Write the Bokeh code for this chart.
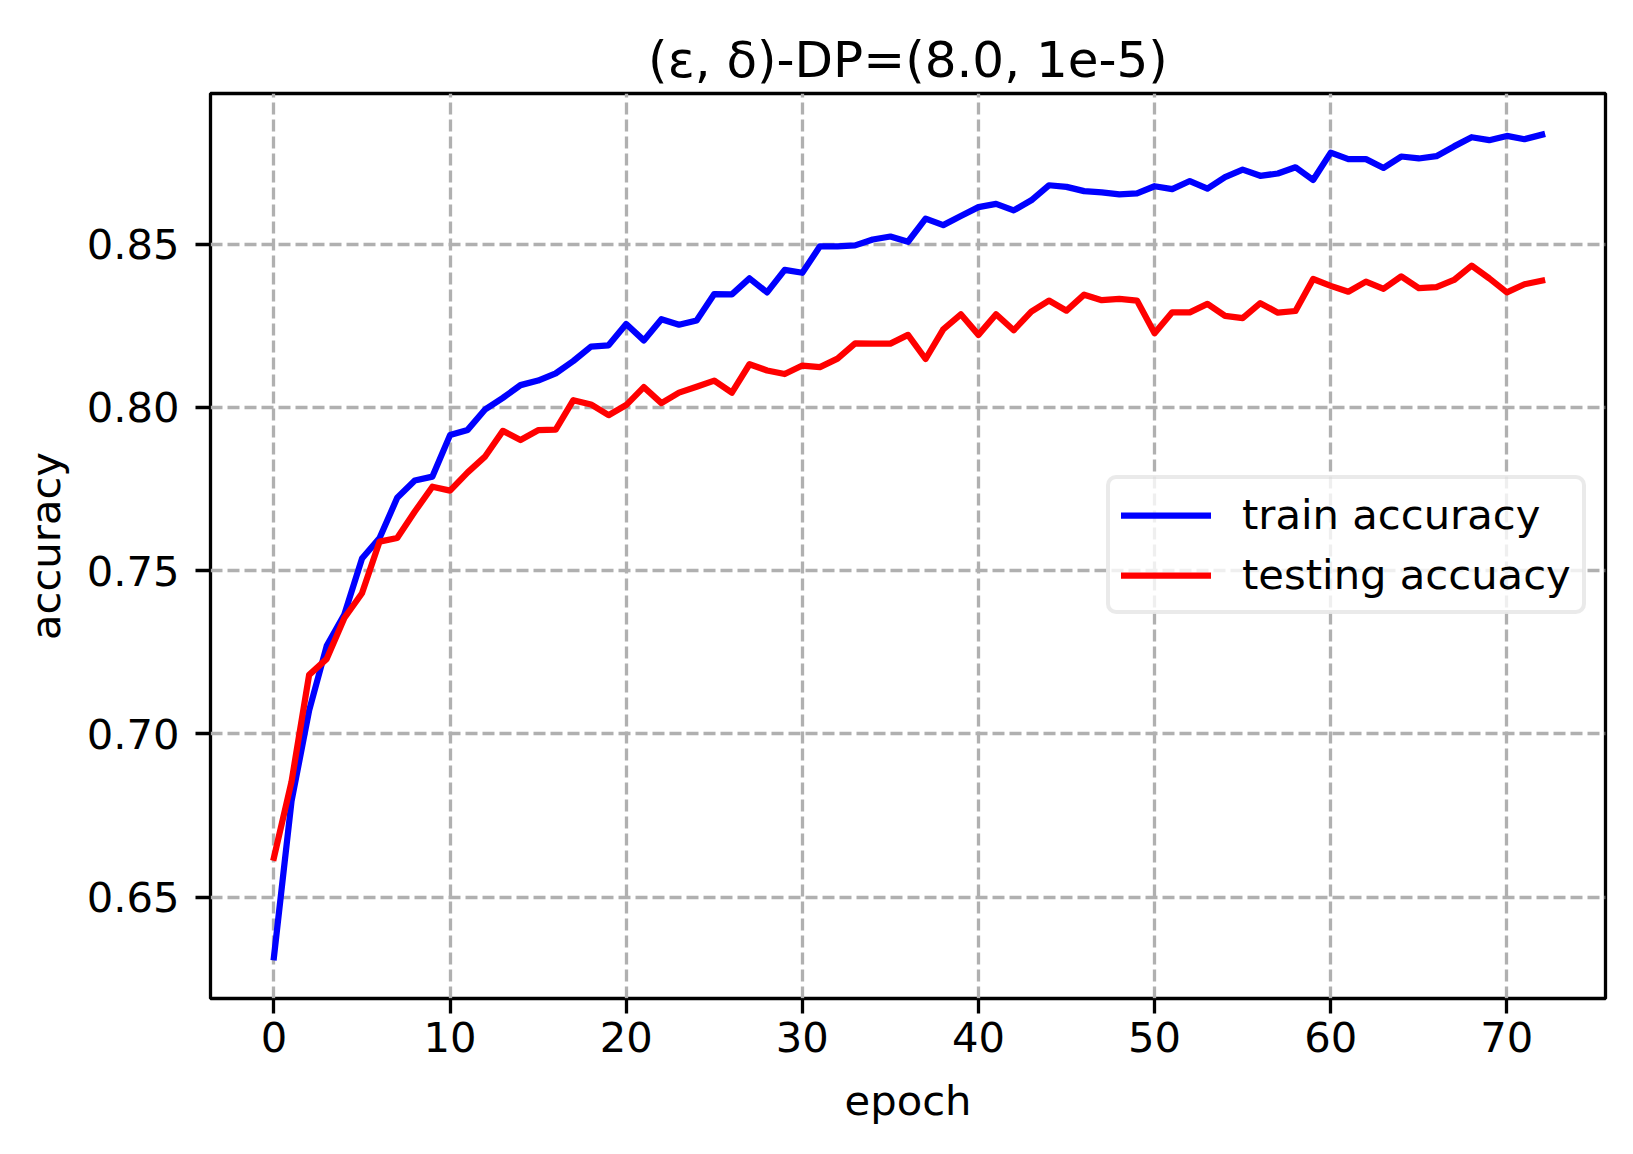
from bokeh.plotting import figure
from bokeh.models import (Range1d, FixedTicker, NumeralTickFormatter, Legend, LegendItem)
from bokeh.embed import file_html
from bokeh.resources import INLINE

# ---- data ----
epochs = list(range(73))
train_acc = [
    0.6316, 0.6794, 0.7072, 0.7270, 0.7366, 0.7537, 0.7600, 0.7723, 0.7776, 0.7788,
    0.7915, 0.7931, 0.7994, 0.8029, 0.8068, 0.8082, 0.8104, 0.8142, 0.8186, 0.8190,
    0.8255, 0.8205, 0.8270, 0.8253, 0.8266, 0.8347, 0.8346, 0.8395, 0.8352, 0.8421,
    0.8412, 0.8493, 0.8493, 0.8496, 0.8514, 0.8523, 0.8507, 0.8578, 0.8558, 0.8586,
    0.8613, 0.8623, 0.8603, 0.8634, 0.8680, 0.8675, 0.8662, 0.8658, 0.8652, 0.8655,
    0.8677, 0.8668, 0.8693, 0.8670, 0.8705, 0.8728, 0.8709, 0.8716, 0.8735, 0.8696,
    0.8780, 0.8760, 0.8760, 0.8733, 0.8768, 0.8762, 0.8769, 0.8799, 0.8827, 0.8818,
    0.8831, 0.8821, 0.8835,
]
test_acc = [
    0.6621, 0.6854, 0.7181, 0.7230, 0.7355, 0.7431, 0.7589, 0.7600, 0.7681, 0.7757,
    0.7745, 0.7801, 0.7850, 0.7928, 0.7900, 0.7930, 0.7932, 0.8022, 0.8009, 0.7976,
    0.8007, 0.8062, 0.8013, 0.8045, 0.8063, 0.8082, 0.8045, 0.8132, 0.8113, 0.8102,
    0.8128, 0.8123, 0.8149, 0.8196, 0.8195, 0.8195, 0.8222, 0.8148, 0.8239, 0.8285,
    0.8222, 0.8285, 0.8236, 0.8293, 0.8327, 0.8296, 0.8345, 0.8328, 0.8332, 0.8327,
    0.8227, 0.8291, 0.8291, 0.8317, 0.8280, 0.8273, 0.8319, 0.8290, 0.8295, 0.8393,
    0.8372, 0.8354, 0.8385, 0.8363, 0.8401, 0.8365, 0.8368, 0.8390, 0.8434, 0.8395,
    0.8352, 0.8377, 0.8388,
]
series_labels = ["train accuracy", "testing accuacy"]
title_text = "(\u03b5, \u03b4)-DP=(8.0, 1e-5)"
x_label = "epoch"
y_label = "accuracy"
x_ticks = [0, 10, 20, 30, 40, 50, 60, 70]
y_ticks = [0.65, 0.70, 0.75, 0.80, 0.85]

FONT = "DejaVu Sans"
TICK_PX = "41.7px"

# ranges with matplotlib-like 5% margins
xmin, xmax = min(epochs), max(epochs)
xpad = 0.05 * (xmax - xmin)
allv = train_acc + test_acc
ymin, ymax = min(allv), max(allv)
ypad = 0.05 * (ymax - ymin)

W, H = 1625, 1146
p = figure(width=W, height=H, output_backend="svg", toolbar_location=None,
           x_range=Range1d(xmin - xpad, xmax + xpad),
           y_range=Range1d(ymin - ypad, ymax + ypad),
           title=title_text,
           min_border_left=210, min_border_right=20,
           min_border_top=93, min_border_bottom=148)

p.background_fill_color = "white"
p.border_fill_color = "white"
p.outline_line_color = "black"
p.outline_line_width = 3.3
p.outline_line_alpha = 1.0

p.title.align = "center"
p.title.text_font = FONT
p.title.text_font_size = "50px"
p.title.text_font_style = "normal"
p.title.text_color = "black"
p.title.standoff = 10

for ax in (p.xaxis[0], p.yaxis[0]):
    ax.axis_line_color = None
    ax.major_tick_line_color = "black"
    ax.major_tick_line_width = 3.3
    ax.major_tick_out = 15
    ax.major_tick_in = 0
    ax.minor_tick_out = 0
    ax.minor_tick_in = 0
    ax.major_label_text_font = FONT
    ax.major_label_text_font_size = TICK_PX
    ax.major_label_text_color = "black"
    ax.axis_label_text_font = FONT
    ax.axis_label_text_font_size = TICK_PX
    ax.axis_label_text_font_style = "normal"
    ax.axis_label_text_color = "black"

p.xaxis[0].ticker = FixedTicker(ticks=x_ticks)
p.yaxis[0].ticker = FixedTicker(ticks=y_ticks)
p.yaxis[0].formatter = NumeralTickFormatter(format="0.00")
p.xaxis[0].axis_label = x_label
p.yaxis[0].axis_label = y_label
p.xaxis[0].major_label_standoff = 8
p.yaxis[0].major_label_standoff = 16
p.xaxis[0].axis_label_standoff = 21
p.yaxis[0].axis_label_standoff = 14

p.xgrid[0].ticker = FixedTicker(ticks=x_ticks)
p.ygrid[0].ticker = FixedTicker(ticks=y_ticks)
for g in (p.xgrid[0], p.ygrid[0]):
    g.grid_line_color = "#b0b0b0"
    g.grid_line_width = 3.3
    g.grid_line_dash = "12 5"

r_train = p.line(epochs, train_acc, line_color="#0000ff", line_width=6.25,
                 line_join="round", line_cap="square")
r_test = p.line(epochs, test_acc, line_color="#ff0000", line_width=6.25,
                line_join="round", line_cap="square")

legend = Legend(items=[LegendItem(label=series_labels[0], renderers=[r_train]),
                       LegendItem(label=series_labels[1], renderers=[r_test])],
                location=(896, 384))
legend.label_text_font = FONT
legend.label_text_font_size = TICK_PX
legend.label_text_color = "black"
legend.glyph_width = 90
legend.glyph_height = 48
legend.label_height = 48
legend.spacing = 11
legend.padding = 11
legend.margin = 0
legend.label_standoff = 31
legend.border_line_color = "#d5d5d5"
legend.border_line_width = 4
legend.background_fill_color = "white"
legend.background_fill_alpha = 0.8
if "border_radius" in Legend.properties():
    legend.border_radius = 10
p.add_layout(legend, "center")

open("out.html", "w").write(file_html(p, INLINE))
